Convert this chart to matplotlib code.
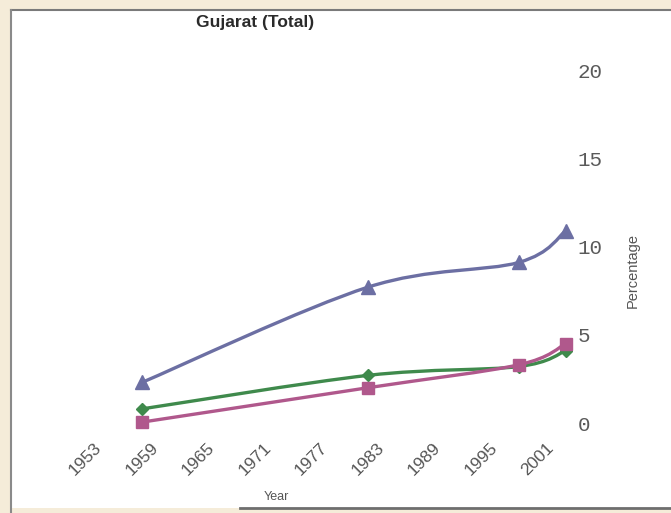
import numpy as np
import matplotlib
matplotlib.use("Agg")
from matplotlib import pyplot as plt
from matplotlib.path import Path
from matplotlib.patches import PathPatch, Rectangle
from matplotlib.lines import Line2D
from matplotlib import transforms

# data
years = [1959, 1983, 1999, 2004]
blue_vals = [2.3, 7.7, 9.1, 10.9]
green_vals = [0.8, 2.7, 3.2, 4.1]
pink_vals = [0.05, 2.0, 3.3, 4.5]
xtick_years = [1953, 1959, 1965, 1971, 1977, 1983, 1989, 1995, 2001]
ytick_vals = [0, 5, 10, 15, 20]

W, H = 671, 513


def smooth_path(x, y):
    # excel-like smoothed line: bezier segments through the points
    pts = np.column_stack([x, y]).astype(float)
    n = len(pts)
    verts = [pts[0]]
    codes = [Path.MOVETO]
    for i in range(n - 1):
        p0 = pts[i - 1] if i > 0 else pts[i]
        p1 = pts[i]
        p2 = pts[i + 1]
        p3 = pts[i + 2] if i + 2 < n else pts[i + 1]
        c1 = p1 + (p2 - p0) / 6.0
        c2 = p2 - (p3 - p1) / 6.0
        verts += [c1, c2, p2]
        codes += [Path.CURVE4] * 3
    return Path(verts, codes)


fig = plt.figure(figsize=(W / 100, H / 100), dpi=100)
fig.patch.set_facecolor("#f5ecd9")

# white panel with the scanned frame lines
fig.patches.append(Rectangle((11 / W, 1 - 508 / H), 1 - 11 / W, (508 - 10) / H,
                             transform=fig.transFigure, facecolor="white",
                             edgecolor="none", zorder=-5))
fig.add_artist(Line2D([11 / W, 1], [1 - 10 / H, 1 - 10 / H], color="#7a7a7a", lw=1.5,
                      transform=fig.transFigure, zorder=-4))
fig.add_artist(Line2D([11 / W, 11 / W], [0, 1 - 10 / H], color="#8a8a8a", lw=1.5,
                      transform=fig.transFigure, zorder=-4))
fig.add_artist(Line2D([240 / W, 1], [1 - 508 / H, 1 - 508 / H], color="#6e6e6e", lw=2,
                      transform=fig.transFigure, zorder=-4))

ax = fig.add_axes([40 / W, 1 - 440 / H, 535 / W, 400 / H])
ax.set_zorder(2)
ax.patch.set_alpha(0)
ax.set_xlim(1948.17, 2004.96)
ax.set_ylim(-0.963, 21.7)
for s in ax.spines.values():
    s.set_visible(False)

series = [
    (blue_vals, "#6c6fa3", "^", 10),
    (green_vals, "#3f8a4c", "D", 6),
    (pink_vals, "#b0588c", "s", 8),
]
for vals, col, mk, ms in series:
    ax.add_patch(PathPatch(smooth_path(years, vals), facecolor="none",
                           edgecolor=col, lw=2.4, capstyle="round"))
    ax.plot(years, vals, linestyle="none", marker=mk, ms=ms, color=col)

ax.set_xticks(xtick_years)
ax.set_xticklabels([str(v) for v in xtick_years], rotation=45, ha="center",
                   fontsize=12.5, color="#555555", family="Liberation Sans")
shift = transforms.ScaledTranslation(-6 / 100, 0, fig.dpi_scale_trans)
for lab in ax.get_xticklabels():
    lab.set_transform(lab.get_transform() + shift)
ax.tick_params(axis="x", length=0, pad=0)

ax.yaxis.tick_right()
ax.set_yticks(ytick_vals)
ax.set_yticklabels([str(v) for v in ytick_vals], fontsize=15, color="#5a5a5a",
                   family="Liberation Mono")
ax.tick_params(axis="y", length=0, pad=2)

fig.text(255 / W, 1 - 22 / H, "Gujarat (Total)", ha="center", va="center",
         fontsize=12.5, fontweight="bold", color="#2a2a2a", family="Liberation Sans")
fig.text(633 / W, 1 - 270 / H, "Percentage", rotation=90, ha="center", va="center",
         fontsize=10.5, color="#555555", family="Liberation Sans")
fig.text(276 / W, 1 - 497 / H, "Year", ha="center", va="center",
         fontsize=9, color="#555555", family="Liberation Sans")

fig.savefig("out.png", dpi=100, facecolor=fig.get_facecolor())
